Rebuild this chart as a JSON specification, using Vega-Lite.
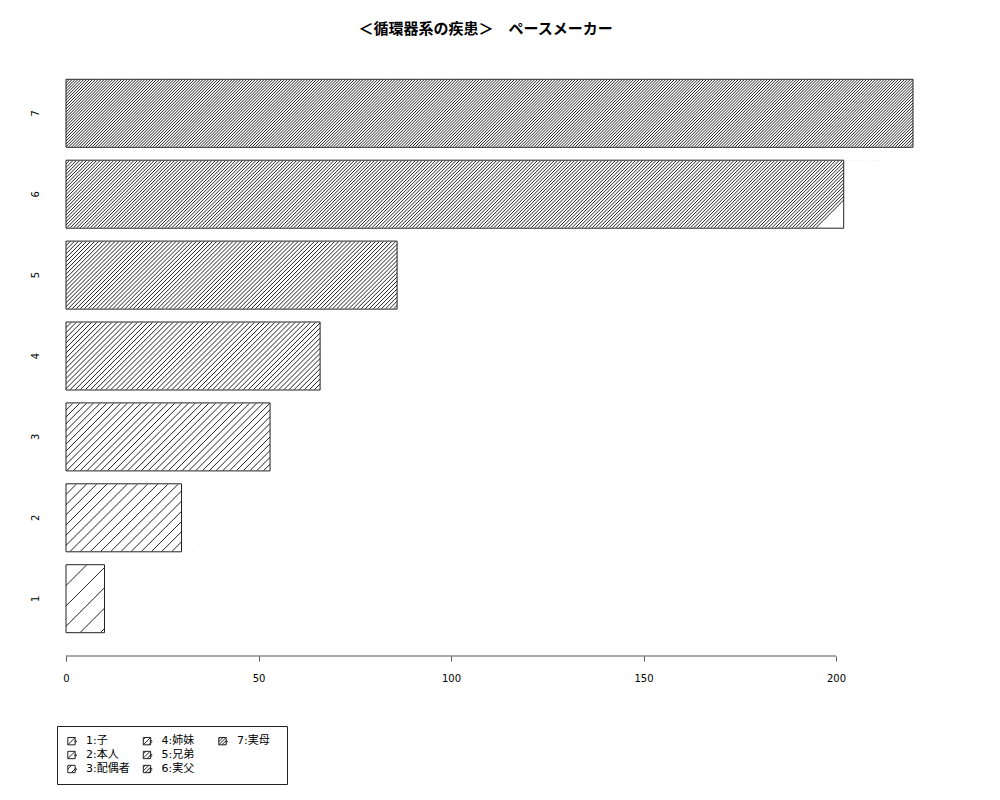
{
  "$schema": "https://vega.github.io/schema/vega-lite/v6.json",
  "width": 881,
  "height": 600,
  "autosize": {"type": "none"},
  "padding": {"left": 66, "top": 56, "right": 53, "bottom": 144},
  "background": "white",
  "title": {
    "text": "＜循環器系の疾患＞　ペースメーカー",
    "font": "Noto Sans CJK JP",
    "fontSize": 15,
    "fontWeight": "bold",
    "color": "#000",
    "anchor": "middle",
    "baseline": "middle",
    "offset": 12,
    "dx": -21
  },
  "data": {
    "values": [
      {"rel": "1", "label": "1:子", "value": 10},
      {"rel": "2", "label": "2:本人", "value": 30},
      {"rel": "3", "label": "3:配偶者", "value": 53},
      {"rel": "4", "label": "4:姉妹", "value": 66},
      {"rel": "5", "label": "5:兄弟", "value": 86},
      {"rel": "6", "label": "6:実父", "value": 202},
      {"rel": "7", "label": "7:実母", "value": 220}
    ]
  },
  "resolve": {"scale": {"shape": "independent"}, "legend": {"shape": "independent"}},
  "layer": [
    {
      "mark": {"type": "point", "filled": false, "clip": true, "stroke": "#222", "strokeWidth": 1, "opacity": 1},
      "encoding": {
        "x": {"datum": 0, "type": "quantitative", "scale": {"domain": [0, 228.83], "nice": false, "zero": false}, "axis": {"values": [0, 50, 100, 150, 200], "title": null}},
        "y": {"field": "rel", "type": "nominal", "scale": {"domain": ["7", "6", "5", "4", "3", "2", "1"], "paddingInner": 0.1595, "paddingOuter": 0.288}, "axis": {"title": null}},
        "size": {"value": 4},
        "shape": {
          "field": "rel",
          "type": "nominal",
          "legend": null,
          "scale": {
            "domain": ["1", "2", "3", "4", "5", "6", "7"],
            "range": [
              "M0,-33.5l-67,67m20.36,0l67,-67m20.36,0l-67,67m20.36,0l67,-67m20.36,0l-67,67m20.36,0l67,-67m20.36,0l-67,67m20.36,0l67,-67m20.36,0",
              "M0,-33.5l-67,67m10.18,0l67,-67m10.18,0l-67,67m10.18,0l67,-67m10.18,0l-67,67m10.18,0l67,-67m10.18,0l-67,67m10.18,0l67,-67m10.18,0l-67,67m10.18,0l67,-67m10.18,0l-67,67m10.18,0l67,-67m10.18,0l-67,67m10.18,0l67,-67m10.18,0l-67,67m10.18,0l67,-67m10.18,0l-67,67m10.18,0l67,-67m10.18,0l-67,67m10.18,0l67,-67m10.18,0l-67,67m10.18,0l67,-67m10.18,0",
              "M0,-33.5l-67,67m6.79,0l67,-67m6.79,0l-67,67m6.79,0l67,-67m6.79,0l-67,67m6.79,0l67,-67m6.79,0l-67,67m6.79,0l67,-67m6.79,0l-67,67m6.79,0l67,-67m6.79,0l-67,67m6.79,0l67,-67m6.79,0l-67,67m6.79,0l67,-67m6.79,0l-67,67m6.79,0l67,-67m6.79,0l-67,67m6.79,0l67,-67m6.79,0l-67,67m6.79,0l67,-67m6.79,0l-67,67m6.79,0l67,-67m6.79,0l-67,67m6.79,0l67,-67m6.79,0l-67,67m6.79,0l67,-67m6.79,0l-67,67m6.79,0l67,-67m6.79,0l-67,67m6.79,0l67,-67m6.79,0l-67,67m6.79,0l67,-67m6.79,0l-67,67m6.79,0l67,-67m6.79,0l-67,67m6.79,0l67,-67m6.79,0l-67,67m6.79,0l67,-67m6.79,0l-67,67m6.79,0l67,-67m6.79,0l-67,67m6.79,0l67,-67m6.79,0l-67,67m6.79,0l67,-67m6.79,0l-67,67m6.79,0l67,-67m6.79,0l-67,67m6.79,0l67,-67m6.79,0l-67,67m6.79,0l67,-67m6.79,0",
              "M0,-33.5l-67,67m5.09,0l67,-67m5.09,0l-67,67m5.09,0l67,-67m5.09,0l-67,67m5.09,0l67,-67m5.09,0l-67,67m5.09,0l67,-67m5.09,0l-67,67m5.09,0l67,-67m5.09,0l-67,67m5.09,0l67,-67m5.09,0l-67,67m5.09,0l67,-67m5.09,0l-67,67m5.09,0l67,-67m5.09,0l-67,67m5.09,0l67,-67m5.09,0l-67,67m5.09,0l67,-67m5.09,0l-67,67m5.09,0l67,-67m5.09,0l-67,67m5.09,0l67,-67m5.09,0l-67,67m5.09,0l67,-67m5.09,0l-67,67m5.09,0l67,-67m5.09,0l-67,67m5.09,0l67,-67m5.09,0l-67,67m5.09,0l67,-67m5.09,0l-67,67m5.09,0l67,-67m5.09,0l-67,67m5.09,0l67,-67m5.09,0l-67,67m5.09,0l67,-67m5.09,0l-67,67m5.09,0l67,-67m5.09,0l-67,67m5.09,0l67,-67m5.09,0l-67,67m5.09,0l67,-67m5.09,0l-67,67m5.09,0l67,-67m5.09,0l-67,67m5.09,0l67,-67m5.09,0l-67,67m5.09,0l67,-67m5.09,0l-67,67m5.09,0l67,-67m5.09,0l-67,67m5.09,0l67,-67m5.09,0l-67,67m5.09,0l67,-67m5.09,0l-67,67m5.09,0l67,-67m5.09,0l-67,67m5.09,0l67,-67m5.09,0l-67,67m5.09,0l67,-67m5.09,0l-67,67m5.09,0l67,-67m5.09,0l-67,67m5.09,0l67,-67m5.09,0l-67,67m5.09,0l67,-67m5.09,0l-67,67m5.09,0l67,-67m5.09,0l-67,67m5.09,0l67,-67m5.09,0l-67,67m5.09,0l67,-67m5.09,0l-67,67m5.09,0l67,-67m5.09,0",
              "M0,-33.5l-67,67m4.07,0l67,-67m4.07,0l-67,67m4.07,0l67,-67m4.07,0l-67,67m4.07,0l67,-67m4.07,0l-67,67m4.07,0l67,-67m4.07,0l-67,67m4.07,0l67,-67m4.07,0l-67,67m4.07,0l67,-67m4.07,0l-67,67m4.07,0l67,-67m4.07,0l-67,67m4.07,0l67,-67m4.07,0l-67,67m4.07,0l67,-67m4.07,0l-67,67m4.07,0l67,-67m4.07,0l-67,67m4.07,0l67,-67m4.07,0l-67,67m4.07,0l67,-67m4.07,0l-67,67m4.07,0l67,-67m4.07,0l-67,67m4.07,0l67,-67m4.07,0l-67,67m4.07,0l67,-67m4.07,0l-67,67m4.07,0l67,-67m4.07,0l-67,67m4.07,0l67,-67m4.07,0l-67,67m4.07,0l67,-67m4.07,0l-67,67m4.07,0l67,-67m4.07,0l-67,67m4.07,0l67,-67m4.07,0l-67,67m4.07,0l67,-67m4.07,0l-67,67m4.07,0l67,-67m4.07,0l-67,67m4.07,0l67,-67m4.07,0l-67,67m4.07,0l67,-67m4.07,0l-67,67m4.07,0l67,-67m4.07,0l-67,67m4.07,0l67,-67m4.07,0l-67,67m4.07,0l67,-67m4.07,0l-67,67m4.07,0l67,-67m4.07,0l-67,67m4.07,0l67,-67m4.07,0l-67,67m4.07,0l67,-67m4.07,0l-67,67m4.07,0l67,-67m4.07,0l-67,67m4.07,0l67,-67m4.07,0l-67,67m4.07,0l67,-67m4.07,0l-67,67m4.07,0l67,-67m4.07,0l-67,67m4.07,0l67,-67m4.07,0l-67,67m4.07,0l67,-67m4.07,0l-67,67m4.07,0l67,-67m4.07,0l-67,67m4.07,0l67,-67m4.07,0l-67,67m4.07,0l67,-67m4.07,0l-67,67m4.07,0l67,-67m4.07,0l-67,67m4.07,0l67,-67m4.07,0l-67,67m4.07,0l67,-67m4.07,0l-67,67m4.07,0l67,-67m4.07,0l-67,67m4.07,0l67,-67m4.07,0l-67,67m4.07,0l67,-67m4.07,0l-67,67m4.07,0l67,-67m4.07,0l-67,67m4.07,0l67,-67m4.07,0l-67,67m4.07,0l67,-67m4.07,0l-67,67m4.07,0l67,-67m4.07,0l-67,67m4.07,0l67,-67m4.07,0l-67,67m4.07,0l67,-67m4.07,0l-67,67m4.07,0l67,-67m4.07,0l-67,67m4.07,0l67,-67m4.07,0l-67,67m4.07,0l67,-67m4.07,0l-67,67m4.07,0l67,-67m4.07,0l-67,67m4.07,0l67,-67m4.07,0l-67,67m4.07,0l67,-67m4.07,0",
              "M0,-33.5l-67,67m3.39,0l67,-67m3.39,0l-67,67m3.39,0l67,-67m3.39,0l-67,67m3.39,0l67,-67m3.39,0l-67,67m3.39,0l67,-67m3.39,0l-67,67m3.39,0l67,-67m3.39,0l-67,67m3.39,0l67,-67m3.39,0l-67,67m3.39,0l67,-67m3.39,0l-67,67m3.39,0l67,-67m3.39,0l-67,67m3.39,0l67,-67m3.39,0l-67,67m3.39,0l67,-67m3.39,0l-67,67m3.39,0l67,-67m3.39,0l-67,67m3.39,0l67,-67m3.39,0l-67,67m3.39,0l67,-67m3.39,0l-67,67m3.39,0l67,-67m3.39,0l-67,67m3.39,0l67,-67m3.39,0l-67,67m3.39,0l67,-67m3.39,0l-67,67m3.39,0l67,-67m3.39,0l-67,67m3.39,0l67,-67m3.39,0l-67,67m3.39,0l67,-67m3.39,0l-67,67m3.39,0l67,-67m3.39,0l-67,67m3.39,0l67,-67m3.39,0l-67,67m3.39,0l67,-67m3.39,0l-67,67m3.39,0l67,-67m3.39,0l-67,67m3.39,0l67,-67m3.39,0l-67,67m3.39,0l67,-67m3.39,0l-67,67m3.39,0l67,-67m3.39,0l-67,67m3.39,0l67,-67m3.39,0l-67,67m3.39,0l67,-67m3.39,0l-67,67m3.39,0l67,-67m3.39,0l-67,67m3.39,0l67,-67m3.39,0l-67,67m3.39,0l67,-67m3.39,0l-67,67m3.39,0l67,-67m3.39,0l-67,67m3.39,0l67,-67m3.39,0l-67,67m3.39,0l67,-67m3.39,0l-67,67m3.39,0l67,-67m3.39,0l-67,67m3.39,0l67,-67m3.39,0l-67,67m3.39,0l67,-67m3.39,0l-67,67m3.39,0l67,-67m3.39,0l-67,67m3.39,0l67,-67m3.39,0l-67,67m3.39,0l67,-67m3.39,0l-67,67m3.39,0l67,-67m3.39,0l-67,67m3.39,0l67,-67m3.39,0l-67,67m3.39,0l67,-67m3.39,0l-67,67m3.39,0l67,-67m3.39,0l-67,67m3.39,0l67,-67m3.39,0l-67,67m3.39,0l67,-67m3.39,0l-67,67m3.39,0l67,-67m3.39,0l-67,67m3.39,0l67,-67m3.39,0l-67,67m3.39,0l67,-67m3.39,0l-67,67m3.39,0l67,-67m3.39,0l-67,67m3.39,0l67,-67m3.39,0l-67,67m3.39,0l67,-67m3.39,0l-67,67m3.39,0l67,-67m3.39,0l-67,67m3.39,0l67,-67m3.39,0l-67,67m3.39,0l67,-67m3.39,0l-67,67m3.39,0l67,-67m3.39,0l-67,67m3.39,0l67,-67m3.39,0l-67,67m3.39,0l67,-67m3.39,0l-67,67m3.39,0l67,-67m3.39,0l-67,67m3.39,0l67,-67m3.39,0l-67,67m3.39,0l67,-67m3.39,0l-67,67m3.39,0l67,-67m3.39,0l-67,67m3.39,0l67,-67m3.39,0l-67,67m3.39,0l67,-67m3.39,0l-67,67m3.39,0l67,-67m3.39,0l-67,67m3.39,0l67,-67m3.39,0l-67,67m3.39,0l67,-67m3.39,0l-67,67m3.39,0l67,-67m3.39,0l-67,67m3.39,0l67,-67m3.39,0l-67,67m3.39,0l67,-67m3.39,0l-67,67m3.39,0l67,-67m3.39,0l-67,67m3.39,0l67,-67m3.39,0l-67,67m3.39,0l67,-67m3.39,0l-67,67m3.39,0l67,-67m3.39,0l-67,67m3.39,0l67,-67m3.39,0l-67,67m3.39,0l67,-67m3.39,0l-67,67m3.39,0l67,-67m3.39,0l-67,67m3.39,0l67,-67m3.39,0l-67,67m3.39,0l67,-67m3.39,0l-67,67m3.39,0l67,-67m3.39,0l-67,67m3.39,0l67,-67m3.39,0l-67,67m3.39,0l67,-67m3.39,0l-67,67m3.39,0l67,-67m3.39,0l-67,67m3.39,0l67,-67m3.39,0l-67,67m3.39,0l67,-67m3.39,0l-67,67m3.39,0l67,-67m3.39,0l-67,67m3.39,0l67,-67m3.39,0l-67,67m3.39,0l67,-67m3.39,0l-67,67m3.39,0l67,-67m3.39,0l-67,67m3.39,0l67,-67m3.39,0l-67,67m3.39,0l67,-67m3.39,0l-67,67m3.39,0l67,-67m3.39,0l-67,67m3.39,0l67,-67m3.39,0l-67,67m3.39,0l67,-67m3.39,0l-67,67m3.39,0l67,-67m3.39,0l-67,67m3.39,0l67,-67m3.39,0l-67,67m3.39,0l67,-67m3.39,0l-67,67m3.39,0l67,-67m3.39,0l-67,67m3.39,0l67,-67m3.39,0l-67,67m3.39,0l67,-67m3.39,0l-67,67m3.39,0l67,-67m3.39,0l-67,67m3.39,0l67,-67m3.39,0l-67,67m3.39,0l67,-67m3.39,0l-67,67m3.39,0l67,-67m3.39,0l-67,67m3.39,0l67,-67m3.39,0l-67,67m3.39,0l67,-67m3.39,0l-67,67m3.39,0l67,-67m3.39,0l-67,67m3.39,0l67,-67m3.39,0l-67,67m3.39,0l67,-67m3.39,0l-67,67m3.39,0l67,-67m3.39,0l-67,67m3.39,0l67,-67m3.39,0l-67,67m3.39,0l67,-67m3.39,0l-67,67m3.39,0l67,-67m3.39,0l-67,67m3.39,0l67,-67m3.39,0l-67,67m3.39,0l67,-67m3.39,0l-67,67m3.39,0l67,-67m3.39,0l-67,67m3.39,0l67,-67m3.39,0l-67,67m3.39,0l67,-67m3.39,0l-67,67m3.39,0l67,-67m3.39,0l-67,67m3.39,0l67,-67m3.39,0l-67,67m3.39,0l67,-67m3.39,0",
              "M0,-33.5l-67,67m2.91,0l67,-67m2.91,0l-67,67m2.91,0l67,-67m2.91,0l-67,67m2.91,0l67,-67m2.91,0l-67,67m2.91,0l67,-67m2.91,0l-67,67m2.91,0l67,-67m2.91,0l-67,67m2.91,0l67,-67m2.91,0l-67,67m2.91,0l67,-67m2.91,0l-67,67m2.91,0l67,-67m2.91,0l-67,67m2.91,0l67,-67m2.91,0l-67,67m2.91,0l67,-67m2.91,0l-67,67m2.91,0l67,-67m2.91,0l-67,67m2.91,0l67,-67m2.91,0l-67,67m2.91,0l67,-67m2.91,0l-67,67m2.91,0l67,-67m2.91,0l-67,67m2.91,0l67,-67m2.91,0l-67,67m2.91,0l67,-67m2.91,0l-67,67m2.91,0l67,-67m2.91,0l-67,67m2.91,0l67,-67m2.91,0l-67,67m2.91,0l67,-67m2.91,0l-67,67m2.91,0l67,-67m2.91,0l-67,67m2.91,0l67,-67m2.91,0l-67,67m2.91,0l67,-67m2.91,0l-67,67m2.91,0l67,-67m2.91,0l-67,67m2.91,0l67,-67m2.91,0l-67,67m2.91,0l67,-67m2.91,0l-67,67m2.91,0l67,-67m2.91,0l-67,67m2.91,0l67,-67m2.91,0l-67,67m2.91,0l67,-67m2.91,0l-67,67m2.91,0l67,-67m2.91,0l-67,67m2.91,0l67,-67m2.91,0l-67,67m2.91,0l67,-67m2.91,0l-67,67m2.91,0l67,-67m2.91,0l-67,67m2.91,0l67,-67m2.91,0l-67,67m2.91,0l67,-67m2.91,0l-67,67m2.91,0l67,-67m2.91,0l-67,67m2.91,0l67,-67m2.91,0l-67,67m2.91,0l67,-67m2.91,0l-67,67m2.91,0l67,-67m2.91,0l-67,67m2.91,0l67,-67m2.91,0l-67,67m2.91,0l67,-67m2.91,0l-67,67m2.91,0l67,-67m2.91,0l-67,67m2.91,0l67,-67m2.91,0l-67,67m2.91,0l67,-67m2.91,0l-67,67m2.91,0l67,-67m2.91,0l-67,67m2.91,0l67,-67m2.91,0l-67,67m2.91,0l67,-67m2.91,0l-67,67m2.91,0l67,-67m2.91,0l-67,67m2.91,0l67,-67m2.91,0l-67,67m2.91,0l67,-67m2.91,0l-67,67m2.91,0l67,-67m2.91,0l-67,67m2.91,0l67,-67m2.91,0l-67,67m2.91,0l67,-67m2.91,0l-67,67m2.91,0l67,-67m2.91,0l-67,67m2.91,0l67,-67m2.91,0l-67,67m2.91,0l67,-67m2.91,0l-67,67m2.91,0l67,-67m2.91,0l-67,67m2.91,0l67,-67m2.91,0l-67,67m2.91,0l67,-67m2.91,0l-67,67m2.91,0l67,-67m2.91,0l-67,67m2.91,0l67,-67m2.91,0l-67,67m2.91,0l67,-67m2.91,0l-67,67m2.91,0l67,-67m2.91,0l-67,67m2.91,0l67,-67m2.91,0l-67,67m2.91,0l67,-67m2.91,0l-67,67m2.91,0l67,-67m2.91,0l-67,67m2.91,0l67,-67m2.91,0l-67,67m2.91,0l67,-67m2.91,0l-67,67m2.91,0l67,-67m2.91,0l-67,67m2.91,0l67,-67m2.91,0l-67,67m2.91,0l67,-67m2.91,0l-67,67m2.91,0l67,-67m2.91,0l-67,67m2.91,0l67,-67m2.91,0l-67,67m2.91,0l67,-67m2.91,0l-67,67m2.91,0l67,-67m2.91,0l-67,67m2.91,0l67,-67m2.91,0l-67,67m2.91,0l67,-67m2.91,0l-67,67m2.91,0l67,-67m2.91,0l-67,67m2.91,0l67,-67m2.91,0l-67,67m2.91,0l67,-67m2.91,0l-67,67m2.91,0l67,-67m2.91,0l-67,67m2.91,0l67,-67m2.91,0l-67,67m2.91,0l67,-67m2.91,0l-67,67m2.91,0l67,-67m2.91,0l-67,67m2.91,0l67,-67m2.91,0l-67,67m2.91,0l67,-67m2.91,0l-67,67m2.91,0l67,-67m2.91,0l-67,67m2.91,0l67,-67m2.91,0l-67,67m2.91,0l67,-67m2.91,0l-67,67m2.91,0l67,-67m2.91,0l-67,67m2.91,0l67,-67m2.91,0l-67,67m2.91,0l67,-67m2.91,0l-67,67m2.91,0l67,-67m2.91,0l-67,67m2.91,0l67,-67m2.91,0l-67,67m2.91,0l67,-67m2.91,0l-67,67m2.91,0l67,-67m2.91,0l-67,67m2.91,0l67,-67m2.91,0l-67,67m2.91,0l67,-67m2.91,0l-67,67m2.91,0l67,-67m2.91,0l-67,67m2.91,0l67,-67m2.91,0l-67,67m2.91,0l67,-67m2.91,0l-67,67m2.91,0l67,-67m2.91,0l-67,67m2.91,0l67,-67m2.91,0l-67,67m2.91,0l67,-67m2.91,0l-67,67m2.91,0l67,-67m2.91,0l-67,67m2.91,0l67,-67m2.91,0l-67,67m2.91,0l67,-67m2.91,0l-67,67m2.91,0l67,-67m2.91,0l-67,67m2.91,0l67,-67m2.91,0l-67,67m2.91,0l67,-67m2.91,0l-67,67m2.91,0l67,-67m2.91,0l-67,67m2.91,0l67,-67m2.91,0l-67,67m2.91,0l67,-67m2.91,0l-67,67m2.91,0l67,-67m2.91,0l-67,67m2.91,0l67,-67m2.91,0l-67,67m2.91,0l67,-67m2.91,0l-67,67m2.91,0l67,-67m2.91,0l-67,67m2.91,0l67,-67m2.91,0l-67,67m2.91,0l67,-67m2.91,0l-67,67m2.91,0l67,-67m2.91,0l-67,67m2.91,0l67,-67m2.91,0l-67,67m2.91,0l67,-67m2.91,0l-67,67m2.91,0l67,-67m2.91,0l-67,67m2.91,0l67,-67m2.91,0l-67,67m2.91,0l67,-67m2.91,0l-67,67m2.91,0l67,-67m2.91,0l-67,67m2.91,0l67,-67m2.91,0l-67,67m2.91,0l67,-67m2.91,0l-67,67m2.91,0l67,-67m2.91,0l-67,67m2.91,0l67,-67m2.91,0l-67,67m2.91,0l67,-67m2.91,0l-67,67m2.91,0l67,-67m2.91,0l-67,67m2.91,0l67,-67m2.91,0l-67,67m2.91,0l67,-67m2.91,0l-67,67m2.91,0l67,-67m2.91,0l-67,67m2.91,0l67,-67m2.91,0l-67,67m2.91,0l67,-67m2.91,0l-67,67m2.91,0l67,-67m2.91,0l-67,67m2.91,0l67,-67m2.91,0l-67,67m2.91,0l67,-67m2.91,0l-67,67m2.91,0l67,-67m2.91,0l-67,67m2.91,0l67,-67m2.91,0l-67,67m2.91,0l67,-67m2.91,0l-67,67m2.91,0l67,-67m2.91,0l-67,67m2.91,0l67,-67m2.91,0l-67,67m2.91,0l67,-67m2.91,0l-67,67m2.91,0l67,-67m2.91,0l-67,67m2.91,0l67,-67m2.91,0l-67,67m2.91,0l67,-67m2.91,0l-67,67m2.91,0l67,-67m2.91,0l-67,67m2.91,0l67,-67m2.91,0l-67,67m2.91,0l67,-67m2.91,0l-67,67m2.91,0l67,-67m2.91,0l-67,67m2.91,0l67,-67m2.91,0l-67,67m2.91,0l67,-67m2.91,0l-67,67m2.91,0l67,-67m2.91,0l-67,67m2.91,0l67,-67m2.91,0l-67,67m2.91,0l67,-67m2.91,0l-67,67m2.91,0l67,-67m2.91,0l-67,67m2.91,0l67,-67m2.91,0"
            ]
          }
        }
      }
    },
    {
      "mark": {"type": "bar", "fill": "white", "stroke": null, "clip": true},
      "encoding": {
        "x": {"field": "value", "type": "quantitative", "axis": {"values": [0, 50, 100, 150, 200], "title": null}},
        "x2": {"datum": 228.83},
        "y": {"field": "rel", "type": "nominal", "axis": {"title": null}}
      }
    },
    {
      "mark": {"type": "bar", "fill": "transparent", "stroke": "#222", "strokeWidth": 1},
      "encoding": {
        "x": {"field": "value", "type": "quantitative", "axis": {"values": [0, 50, 100, 150, 200], "title": null}},
        "y": {"field": "rel", "type": "nominal", "axis": {"title": null}}
      }
    },
    {
      "data": {"values": [{}]},
      "mark": {"type": "rule", "color": "#555", "strokeWidth": 1},
      "encoding": {
        "x": {"datum": 0, "type": "quantitative", "axis": {"values": [0, 50, 100, 150, 200], "title": null}},
        "x2": {"datum": 200},
        "y": {"value": "height"}
      }
    },
    {
      "mark": {"type": "point", "filled": false, "opacity": 0, "color": "#222"},
      "encoding": {
        "shape": {
          "field": "label",
          "type": "nominal",
          "sort": null,
          "scale": {
            "domain": ["1:子", "2:本人", "3:配偶者", "4:姉妹", "5:兄弟", "6:実父", "7:実母", "_"],
            "range": [
              "M-0.8,-0.7H0.6V0.7H-0.8ZM-0.8,0.7L0.6,-0.7M0.5,0.05L0.7,-0.15L0.9,0.05L0.7,0.25Z",
              "M-0.8,-0.7H0.6V0.7H-0.8ZM-0.8,0.7L0.6,-0.7M0.5,0.05L0.7,-0.15L0.9,0.05L0.7,0.25Z",
              "M-0.8,-0.7H0.6V0.7H-0.8ZM-0.8,0.02L-0.08,-0.7M-0.12,0.7L0.6,-0.02M0.5,0.05L0.7,-0.15L0.9,0.05L0.7,0.25Z",
              "M-0.8,-0.7H0.6V0.7H-0.8ZM-0.8,-0.32L-0.42,-0.7M-0.8,0.7L0.6,-0.7M0.22,0.7L0.6,0.32M0.5,0.05L0.7,-0.15L0.9,0.05L0.7,0.25Z",
              "M-0.8,-0.7H0.6V0.7H-0.8ZM-0.8,-0.2L-0.3,-0.7M-0.8,0.6L0.5,-0.7M-0.1,0.7L0.6,0M0.5,0.05L0.7,-0.15L0.9,0.05L0.7,0.25Z",
              "M-0.8,-0.7H0.6V0.7H-0.8ZM-0.8,-0.32L-0.42,-0.7M-0.8,0.36L0.26,-0.7M-0.46,0.7L0.6,-0.36M0.22,0.7L0.6,0.32M0.5,0.05L0.7,-0.15L0.9,0.05L0.7,0.25Z",
              "M-0.8,-0.7H0.6V0.7H-0.8ZM-0.8,-0.46L-0.56,-0.7M-0.8,0.12L0.02,-0.7M-0.8,0.7L0.6,-0.7M-0.22,0.7L0.6,-0.12M0.36,0.7L0.6,0.46M0.5,0.05L0.7,-0.15L0.9,0.05L0.7,0.25Z",
              "M0,0"
            ]
          },
          "legend": {
            "title": null,
            "orient": "none",
            "legendX": -9,
            "legendY": 670,
            "columns": 3,
            "gridAlign": "all",
            "values": ["1:子", "2:本人", "3:配偶者", "4:姉妹", "5:兄弟", "6:実父", "7:実母", "_"],
            "padding": 9,
            "strokeColor": "#222",
            "fillColor": "white",
            "symbolSize": 110,
            "symbolStrokeWidth": 1,
            "symbolStrokeColor": "#222",
            "symbolFillColor": "transparent",
            "symbolOpacity": 1,
            "labelFont": "DejaVu Sans, Noto Sans CJK JP",
            "labelFontSize": 11,
            "labelColor": "#000",
            "labelOffset": 8,
            "columnPadding": 10.5,
            "rowPadding": 2,
            "labelExpr": "datum.label == '_' ? '⠀⠀⠀⠀⠀' : datum.label"
          }
        }
      }
    }
  ],
  "config": {
    "view": {"stroke": null},
    "axisX": {
      "domain": false,
      "grid": false,
      "tickColor": "#555",
      "tickSize": 5,
      "labelFont": "DejaVu Sans",
      "labelFontSize": 10,
      "labelColor": "#000",
      "labelPadding": 12,
      "labelFlush": false,
      "labelOverlap": false
    },
    "axisY": {
      "domain": false,
      "grid": false,
      "ticks": false,
      "tickSize": 0,
      "labelAngle": -90,
      "labelAlign": "center",
      "labelBaseline": "middle",
      "labelPadding": 31,
      "labelFont": "DejaVu Sans",
      "labelFontSize": 10,
      "labelColor": "#000"
    }
  }
}
